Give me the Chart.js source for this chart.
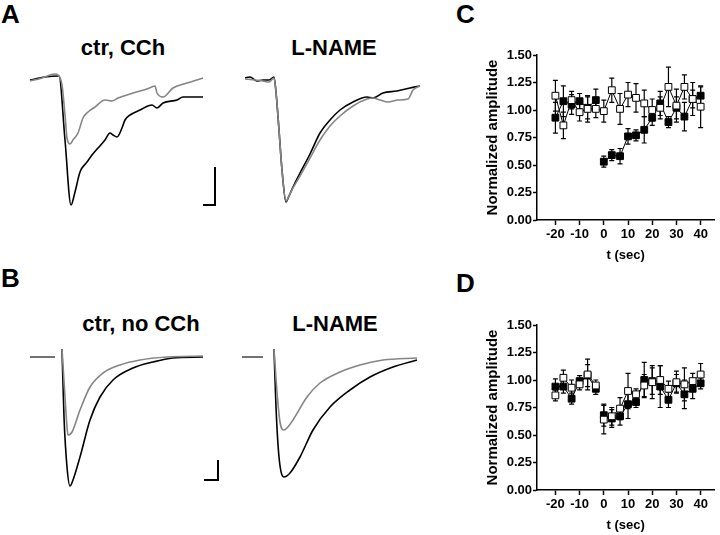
<!DOCTYPE html>
<html>
<head>
<meta charset="utf-8">
<script src="https://cdn.jsdelivr.net/npm/chart.js@4.4.1/dist/chart.umd.min.js"></script>
<style>
  body { margin: 0; background: #fff; }
  #fig { position: relative; width: 720px; height: 535px; overflow: hidden;
         font-family: "Liberation Sans", Arial, sans-serif; font-weight: bold; color: #000; }
  #fig canvas { position: absolute; }
  .lbl { position: absolute; font-size: 26px; line-height: 1; }
  .ttl { position: absolute; font-size: 22px; line-height: 1; transform: translateX(-50%); white-space: nowrap; }
</style>
</head>
<body>
<div id="fig">
  <div class="lbl" style="left:1px;top:1px">A</div>
  <div class="lbl" style="left:1px;top:265px">B</div>
  <div class="lbl" style="left:456px;top:1px">C</div>
  <div class="lbl" style="left:456px;top:270px">D</div>
  <div class="ttl" style="left:123px;top:37px">ctr, CCh</div>
  <div class="ttl" style="left:334px;top:37px">L-NAME</div>
  <div class="ttl" style="left:141px;top:313px">ctr, no CCh</div>
  <div class="ttl" style="left:335px;top:313px">L-NAME</div>

  <canvas id="aCtr" width="205" height="155" style="left:20px;top:60px"></canvas>
  <canvas id="aName" width="205" height="155" style="left:235px;top:60px"></canvas>
  <canvas id="bCtr" width="205" height="165" style="left:20px;top:330px"></canvas>
  <canvas id="bName" width="205" height="165" style="left:232px;top:330px"></canvas>
  <canvas id="cAmp" width="260" height="270" style="left:460px;top:0px"></canvas>
  <canvas id="dAmp" width="260" height="265" style="left:460px;top:270px"></canvas>
</div>
<script>
// ---- traces (time in ms, current in pA, baseline = 0) ----
// A, ctr + CCh
const aCtrGreyT = [0, 12, 25, 28, 32, 35, 37, 40, 43, 48, 53, 58, 65, 75, 82, 88, 103, 117, 125, 127, 133, 143, 157, 173];
const aCtrGreyI = [-3, 0, 4, 3, -7, -37, -60, -66, -62, -55, -40, -34, -29, -22, -23, -20, -15, -11, -8, -15, -19, -10, -5, 0];
const aCtrBlackT = [0, 15, 29, 35, 41, 45, 50, 57, 62, 68, 75, 80, 83, 87, 92, 95, 100, 110, 122, 127, 133, 147, 153, 173];
const aCtrBlackI = [-2, 1, 2, -62, -127, -114, -94, -84, -77, -70, -62, -55, -57, -59, -50, -42, -37, -32, -27, -30, -25, -22, -19, -19];
// A, L-NAME
const aNameBlackT = [0, 5, 12, 18, 24, 29, 31, 34, 37, 41, 44, 48, 55, 65, 75, 85, 95, 108, 122, 128, 138, 152, 165, 175];
const aNameBlackI = [0, 1, -3, -2, -2, 1, -14, -52, -92, -124, -118, -109, -95, -76, -55, -42, -32, -24, -19, -20, -15, -13, -10, -8];
const aNameGreyT = [0, 10, 18, 24, 29, 31, 34, 37, 41, 44, 48, 55, 65, 75, 85, 95, 108, 122, 128, 135, 143, 153, 163, 168, 175];
const aNameGreyI = [-1, -2, -3, -4, 0, -14, -52, -92, -123, -118, -110, -98, -80, -62, -48, -38, -28, -21, -20, -22, -24, -22, -21, -12, -8];
// B, ctr, no CCh
const bCtrGreyT = [0, 25, 28, 32, 35, 37, 38, 42, 50, 60, 73, 90, 110, 137, 173];
const bCtrGreyI = [0, 0, null, 8, -40, -70, -78, -75, -53, -30, -16, -8, -3, 0, 1];
const bCtrBlackT = [0, 25, 28, 32, 34, 37, 40, 43, 50, 60, 70, 83, 103, 123, 143, 173];
const bCtrBlackI = [0, 0, null, 8, -60, -110, -129, -123, -100, -63, -40, -23, -11, -5, -1, 0];
// B, L-NAME
const bNameGreyT = [0, 21, 26, 32, 35, 38, 42, 45, 51, 65, 78, 98, 118, 141, 175];
const bNameGreyI = [0, 0, null, 8, -35, -65, -73, -71, -63, -40, -26, -15, -8, -3, -1];
const bNameBlackT = [0, 21, 26, 32, 34, 37, 42, 48, 58, 71, 88, 108, 128, 151, 175];
const bNameBlackI = [0, 0, null, 8, -50, -100, -120, -116, -100, -73, -50, -33, -20, -10, -3];
// scale bars
const aBarT = [173, 185, 185];
const aBarI = [-127, -127, -89];
const bBarT = [174, 188, 188];
const bBarI = [-123, -123, -103];

// ---- normalized amplitude vs time ----
const tSec = [-20, -16.7, -13.3, -10, -6.7, -3.3, 0, 3.3, 6.7, 10, 13.3, 16.7, 20, 23.3, 26.7, 30, 33.3, 36.7, 40];
const secTicks = [-20, -10, 0, 10, 20, 30, 40];
const ampTicks = [0, 0.25, 0.5, 0.75, 1.0, 1.25, 1.5];

const cOpen = [1.13, 0.86, 1.09, 0.98, 1.01, 1.01, 0.99, 1.18, 1.01, 1.14, 1.11, 1.06, 1.00, 1.02, 1.21, 1.04, 1.21, 1.10, 1.03];
const cOpenErr = [0.14, 0.12, 0.08, 0.08, 0.12, 0.08, 0.10, 0.11, 0.14, 0.11, 0.13, 0.12, 0.10, 0.10, 0.18, 0.15, 0.11, 0.15, 0.19];
const cFill = [0.93, 1.08, 1.05, 1.08, 1.02, 1.09, 0.53, 0.59, 0.58, 0.76, 0.77, 0.82, 0.93, 1.06, 0.89, 1.02, 0.94, 1.10, 1.13];
const cFillErr = [0.14, 0.14, 0.09, 0.07, 0.10, 0.10, 0.05, 0.05, 0.07, 0.07, 0.05, 0.12, 0.07, 0.11, 0.05, 0.10, 0.13, 0.08, 0.08];

const dOpen = [0.86, 1.02, 0.93, 0.96, 1.05, 0.95, 0.64, 0.67, 0.74, 0.90, 0.87, 0.95, 0.98, 1.00, 0.92, 0.98, 0.96, 0.99, 1.05];
const dOpenErr = [0.05, 0.07, 0.07, 0.05, 0.14, 0.05, 0.13, 0.08, 0.10, 0.16, 0.05, 0.10, 0.15, 0.13, 0.07, 0.10, 0.15, 0.07, 0.10];
const dFill = [0.94, 0.94, 0.83, 0.99, 1.04, 0.92, 0.68, 0.65, 0.67, 0.78, 0.80, 1.00, 0.99, 0.94, 0.82, 0.97, 0.87, 0.92, 0.97];
const dFillErr = [0.07, 0.06, 0.05, 0.05, 0.10, 0.05, 0.10, 0.08, 0.08, 0.13, 0.05, 0.16, 0.12, 0.19, 0.07, 0.08, 0.13, 0.09, 0.05];

const GREY = "#858585";
const FONT = "'Liberation Sans', Arial, sans-serif";

function pts(xs, ys) {
  return xs.map((x, i) => ({ x: x, y: ys[i] }));
}

function trace(xs, ys, color) {
  return {
    data: pts(xs, ys),
    borderColor: color,
    borderWidth: 1.6,
    pointRadius: 0,
    cubicInterpolationMode: "monotone",
    spanGaps: false
  };
}

function bar(xs, ys) {
  return { data: pts(xs, ys), borderColor: "#000", borderWidth: 2, pointRadius: 0, tension: 0 };
}

function traceChart(id, sets, xr, yr) {
  new Chart(document.getElementById(id), {
    type: "line",
    data: { datasets: sets },
    options: {
      responsive: false,
      animation: false,
      layout: { padding: 0 },
      plugins: { legend: { display: false }, tooltip: { enabled: false } },
      scales: {
        x: { type: "linear", display: false, min: xr[0], max: xr[1] },
        y: { type: "linear", display: false, min: yr[0], max: yr[1] }
      }
    }
  });
}

traceChart("aCtr", [trace(aCtrGreyT, aCtrGreyI, GREY), trace(aCtrBlackT, aCtrBlackI, "#000"), bar(aBarT, aBarI)], [-10, 195], [-137, 18]);
traceChart("aName", [trace(aNameGreyT, aNameGreyI, GREY), trace(aNameBlackT, aNameBlackI, "#000")], [-10, 195], [-137, 18]);
traceChart("bCtr", [trace(bCtrGreyT, bCtrGreyI, GREY), trace(bCtrBlackT, bCtrBlackI, "#000"), bar(bBarT, bBarI)], [-10, 195], [-138, 27]);
traceChart("bName", [trace(bNameGreyT, bNameGreyI, GREY), trace(bNameBlackT, bNameBlackI, "#000")], [-10, 195], [-138, 27]);

// error bars drawn under the squares
const errorBars = {
  id: "errorBars",
  beforeDatasetsDraw(chart) {
    const { ctx, scales: { x, y } } = chart;
    ctx.save();
    ctx.strokeStyle = "#000";
    ctx.lineWidth = 1.2;
    chart.data.datasets.forEach(ds => {
      ds.data.forEach((p, i) => {
        const e = ds.errors[i];
        const px = x.getPixelForValue(p.x);
        const top = y.getPixelForValue(p.y + e);
        const bot = y.getPixelForValue(p.y - e);
        ctx.beginPath();
        ctx.moveTo(px, top); ctx.lineTo(px, bot);
        ctx.moveTo(px - 2.5, top); ctx.lineTo(px + 2.5, top);
        ctx.moveTo(px - 2.5, bot); ctx.lineTo(px + 2.5, bot);
        ctx.stroke();
      });
    });
    ctx.restore();
  }
};

function squares(vals, errs, fill, gap, order) {
  return {
    data: pts(tSec, vals),
    errors: errs,
    borderColor: "#000",
    borderWidth: 1,
    pointStyle: "rect",
    pointRadius: 4.8,
    pointBackgroundColor: fill,
    pointBorderColor: "#000",
    pointBorderWidth: 1,
    tension: 0,
    order: order,
    segment: { borderColor: c => (c.p0DataIndex === gap ? "rgba(0,0,0,0)" : "#000") }
  };
}

function ampChart(id, sets, xAxisH, titlePad) {
  const axisCol = "#000";
  new Chart(document.getElementById(id), {
    type: "line",
    data: { datasets: sets },
    plugins: [errorBars],
    options: {
      responsive: false,
      animation: false,
      layout: { padding: { top: 55, right: 0, left: 0, bottom: 0 } },
      plugins: { legend: { display: false }, tooltip: { enabled: false } },
      scales: {
        x: {
          type: "linear", min: -27.6, max: 45.6,
          afterBuildTicks: s => { s.ticks = secTicks.map(v => ({ value: v })); },
          afterFit: s => { s.height = xAxisH; },
          grid: { display: true, drawOnChartArea: false, drawTicks: true, tickLength: 5, color: axisCol, tickColor: axisCol, tickWidth: 1.5 },
          border: { display: true, color: axisCol, width: 1.5 },
          ticks: { color: "#000", padding: 2, autoSkip: false, maxRotation: 0, font: { family: FONT, size: 13, weight: "bold" } },
          title: { display: true, text: "t (sec)", color: "#000", padding: { top: 0, bottom: titlePad }, font: { family: FONT, size: 13, weight: "bold" } }
        },
        y: {
          type: "linear", min: 0, max: 1.5,
          afterBuildTicks: s => { s.ticks = ampTicks.map(v => ({ value: v })); },
          afterFit: s => { s.width = 77; },
          grid: { display: true, drawOnChartArea: false, drawTicks: true, tickLength: 4, color: axisCol, tickColor: axisCol, tickWidth: 1.5 },
          border: { display: true, color: axisCol, width: 1.5 },
          ticks: { color: "#000", padding: 1, callback: v => v.toFixed(2), font: { family: FONT, size: 13, weight: "bold" } },
          title: { display: true, text: "Normalized amplitude", color: "#000", padding: { top: 24, bottom: 0 }, font: { family: FONT, size: 15, weight: "bold" } }
        }
      }
    }
  });
}

ampChart("cAmp", [squares(cOpen, cOpenErr, "#fff", -1, 0), squares(cFill, cFillErr, "#000", 5, 1)], 50, 7);
ampChart("dAmp", [squares(dOpen, dOpenErr, "#fff", 5, 0), squares(dFill, dFillErr, "#000", 5, 1)], 45, 2);
</script>
</body>
</html>
